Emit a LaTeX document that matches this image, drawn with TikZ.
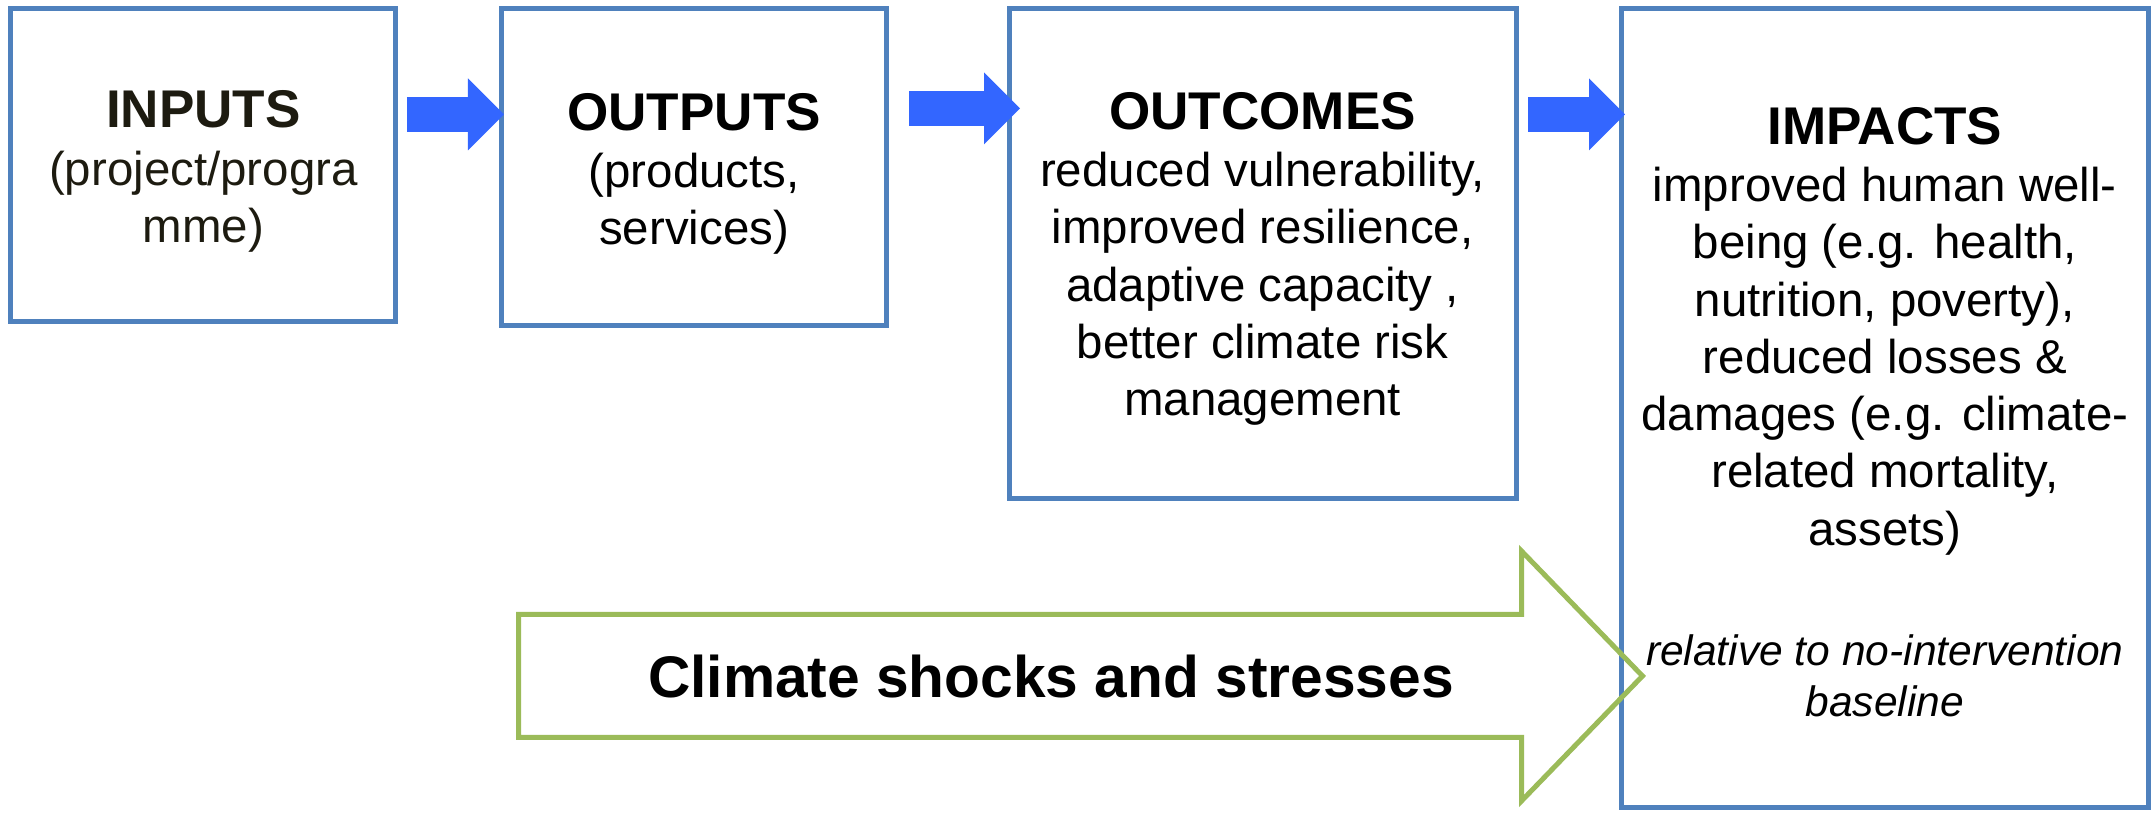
\documentclass[tikz,border=0pt]{standalone}
\usepackage{fontspec}
\setmainfont{Liberation Sans}
\usepackage{tikz}
\usetikzlibrary{positioning,arrows.meta}

\definecolor{boxblue}{RGB}{79,129,189}
\definecolor{arrowblue}{RGB}{51,102,255}
\definecolor{shockgreen}{RGB}{155,187,89}
\definecolor{darktext}{RGB}{29,27,16}

\newcommand{\boxtitle}[1]{{\fontsize{15.1}{17}\selectfont\bfseries #1}}

\begin{document}
\begin{tikzpicture}[
    box/.style={draw=boxblue, line width=0.05cm, inner sep=0pt, outer sep=0pt, anchor=north west},
    txt/.style={align=center, inner sep=0pt, font=\fontsize{13.5}{16.3}\selectfont},
    flow/.style={draw=arrowblue, line width=0.35cm, -{Triangle[length=0.36cm, width=0.72cm, line width=0pt]}},
    shockarrow/.style={draw=shockgreen, line width=0.05cm}
]
\useasboundingbox (0,0) rectangle (21.52,-8.15);

% Boxes
\node (inputs) [box, minimum width=3.85cm, minimum height=3.13cm] at (0.109,-0.084) {};
\node (outputs) [box, right=1.06cm of inputs.north east, anchor=north west,
    minimum width=3.845cm, minimum height=3.17cm] {};
\node (outcomes) [box, right=1.227cm of outputs.north east, anchor=north west,
    minimum width=5.07cm, minimum height=4.90cm] {};
\node (impacts) [box, right=1.055cm of outcomes.north east, anchor=north west,
    minimum width=5.265cm, minimum height=7.99cm] {};

% Texts
\node (inputs text) [txt, text=darktext, below=0.816cm of inputs.north]
    {\boxtitle{INPUTS}\\(project/progra\\mme)};
\node (outputs text) [txt, below=0.84cm of outputs.north]
    {\boxtitle{OUTPUTS}\\(products,\\services)};
\node (outcomes text) [txt, below=0.83cm of outcomes.north]
    {\boxtitle{OUTCOMES}\\reduced vulnerability,\\improved resilience,\\adaptive capacity ,\\better climate risk\\management};
\node (impacts text) [txt, below=0.98cm of impacts.north]
    {\boxtitle{IMPACTS}\\improved human well-\\being (e.g. health,\\nutrition, poverty),\\reduced losses \&\\damages (e.g. climate-\\related mortality,\\assets)};
\node (baseline note) [txt, below=6.26cm of impacts.north, font=\fontsize{12.1}{14.5}\selectfont\itshape]
    {relative to no-intervention\\baseline};

% Arrows
\draw[flow] ([xshift=0.11cm, yshift=-1.06cm]inputs.north east) -- ([xshift=0.02cm, yshift=-1.06cm]outputs.north west);
\draw[flow] ([xshift=0.23cm, yshift=-1.00cm]outputs.north east) -- ([xshift=0.11cm, yshift=-1.00cm]outcomes.north west);
\draw[flow] ([xshift=0.12cm, yshift=-1.06cm]outcomes.north east) -- ([xshift=0.035cm, yshift=-1.06cm]impacts.north west);

% Climate shocks arrow
\draw[shockarrow] (5.185,-6.145) -- (15.215,-6.145) -- (15.215,-5.51) -- (16.425,-6.76)
    -- (15.215,-8.01) -- (15.215,-7.375) -- (5.185,-7.375) -- cycle;
\node (shocks) [anchor=base, font=\fontsize{16.7}{20}\selectfont\bfseries] at (10.51,-6.98)
    {Climate shocks and stresses};

\end{tikzpicture}
\end{document}
